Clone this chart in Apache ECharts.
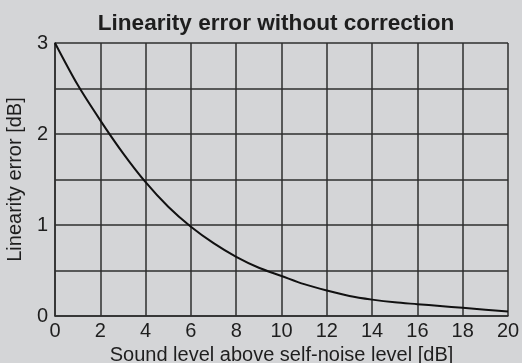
<!DOCTYPE html>
<html>
<head>
<meta charset="utf-8">
<script src="https://cdn.jsdelivr.net/npm/echarts@6/dist/echarts.min.js"></script>
<style>
  html, body { margin: 0; padding: 0; background: #d4d5d7; }
  #chart { width: 522px; height: 363px; }
</style>
</head>
<body>
<div id="chart"></div>
<script>
// Sound level above self-noise level [dB]
const levelDb = [0, 1, 2, 3, 4, 5, 6, 7, 8, 9, 10, 11, 12, 13, 14, 15, 16, 17, 18, 19, 20];
// Linearity error [dB]
const errorDb = [3.0, 2.54, 2.15, 1.79, 1.47, 1.2, 0.98, 0.8, 0.65, 0.53, 0.44, 0.35, 0.28, 0.22, 0.18, 0.15, 0.13, 0.11, 0.09, 0.07, 0.05];
const yTickLabels = ['0', '1', '2', '3'];

const gridColor = '#2e2e2e';
const textColor = '#1e1e1e';
const font = 'Liberation Sans, Arial, sans-serif';

const chart = echarts.init(document.getElementById('chart'), null, { renderer: 'canvas' });
chart.setOption({
  backgroundColor: '#d4d5d7',
  animation: false,
  title: {
    text: 'Linearity error without correction',
    left: 271,
    textAlign: 'center',
    top: 7,
    textStyle: { fontFamily: font, fontSize: 22.6, fontWeight: 'bold', color: textColor }
  },
  grid: { left: 55, right: 14, top: 43, bottom: 47, containLabel: false, outerBoundsMode: 'none' },
  xAxis: {
    type: 'value',
    min: 0, max: 20, interval: 2,
    name: 'Sound level above self-noise level [dB]',
    nameLocation: 'middle',
    nameGap: 28,
    nameTextStyle: { fontFamily: font, fontSize: 20, color: textColor },
    axisLine: { show: true, lineStyle: { color: gridColor, width: 1.5 } },
    axisTick: { show: false },
    axisLabel: { fontFamily: font, fontSize: 20, color: textColor, margin: 5 },
    splitLine: { show: true, lineStyle: { color: gridColor, width: 1.5 } }
  },
  yAxis: {
    type: 'value',
    min: 0, max: 3, interval: 0.5,
    name: 'Linearity error [dB]',
    nameLocation: 'middle',
    nameGap: 28,
    nameTextStyle: { fontFamily: font, fontSize: 20, color: textColor },
    axisLine: { show: true, lineStyle: { color: gridColor, width: 1.5 } },
    axisTick: { show: false },
    axisLabel: {
      fontFamily: font, fontSize: 20, color: textColor, margin: 7,
      formatter: v => (Number.isInteger(v) ? yTickLabels[v] : '')
    },
    splitLine: { show: true, lineStyle: { color: gridColor, width: 1.5 } }
  },
  series: [{
    type: 'line',
    data: levelDb.map((x, i) => [x, errorDb[i]]),
    smooth: 0.3,
    showSymbol: false,
    lineStyle: { color: '#111', width: 2 }
  }]
});
</script>
</body>
</html>
